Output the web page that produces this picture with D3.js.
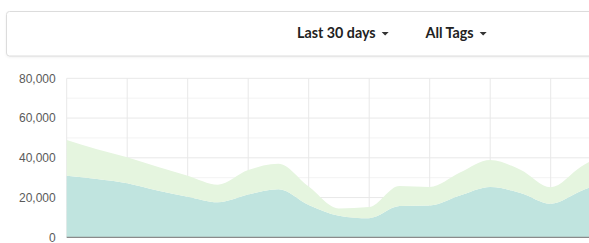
<!DOCTYPE html>
<html>
<head>
<meta charset="utf-8">
<script src="https://cdn.jsdelivr.net/npm/d3@7"></script>
<style>
  html, body { margin: 0; padding: 0; background: #fff; overflow: hidden; }
</style>
</head>
<body>
<div id="chart"></div>
<script>
// daily points, only the visible part of the 30 days range
const days = d3.range(19);
const otherValues = [31000, 29300, 27200, 23500, 20400, 17600, 21500, 24200, 16300, 10900, 9600, 15700, 16000, 21000, 25300, 22300, 16900, 23300, 29000];
const taggedValues = [18000, 15000, 13100, 12000, 10600, 8900, 12300, 12800, 9200, 3600, 5600, 10100, 9300, 11600, 13600, 11700, 8300, 12200, 15000];
const yTicks = [0, 20000, 40000, 60000, 80000];
const filterLabels = ['Last 30 days', 'All Tags'];

const width = 589, height = 243;
const margin = { top: 78.3, bottom: 5.7, left: 66.7 };
const step = 30.25;

const svg = d3.select('#chart')
  .append('svg')
  .attr('width', width)
  .attr('height', height)
  .style('display', 'block');

// filter card on top
svg.append('rect')
  .attr('x', 6.5).attr('y', 11.5)
  .attr('width', 620).attr('height', 44.5)
  .attr('rx', 3)
  .attr('fill', '#fff')
  .attr('stroke', '#dcdcdc')
  .style('filter', 'drop-shadow(0px 1px 1px rgba(0,0,0,0.06))');

const filterX = [297, 425.5];
filterLabels.forEach((label, i) => {
  const t = svg.append('text')
    .attr('x', filterX[i]).attr('y', 38.3)
    .attr('font-family', 'Lato, sans-serif')
    .attr('font-weight', 700)
    .attr('font-size', 14.3)
    .attr('fill', '#222')
    .text(label);
  const w = t.node().getComputedTextLength();
  const ax = filterX[i] + w + 6;
  svg.append('path')
    .attr('d', `M${ax},32 L${ax + 7},32 L${ax + 3.5},35.5 Z`)
    .attr('fill', '#333');
});

const x = d3.scaleLinear()
  .domain([0, days.length - 1])
  .range([margin.left, margin.left + step * (days.length - 1)]);

const y = d3.scaleLinear()
  .domain([0, 80000])
  .range([height - margin.bottom, margin.top]);

// gridlines
const grid = svg.append('g');
grid.selectAll('.minor')
  .data(d3.range(10000, 80000, 20000))
  .join('line')
  .attr('x1', margin.left).attr('x2', width)
  .attr('y1', d => y(d)).attr('y2', d => y(d))
  .attr('stroke', '#f3f3f3');
grid.selectAll('.major')
  .data(yTicks.slice(1))
  .join('line')
  .attr('x1', margin.left).attr('x2', width)
  .attr('y1', d => y(d)).attr('y2', d => y(d))
  .attr('stroke', '#e8e8e8');
grid.selectAll('.vert')
  .data(days.filter(d => d % 2 === 0))
  .join('line')
  .attr('x1', d => x(d)).attr('x2', d => x(d))
  .attr('y1', y(80000)).attr('y2', y(0))
  .attr('stroke', '#e8e8e8');

// stacked areas
const rows = days.map((d, i) => ({ day: d, other: otherValues[i], tagged: taggedValues[i] }));
const stack = d3.stack().keys(['other', 'tagged']);
const series = stack(rows);
const colors = { other: '#c0e4df', tagged: '#e5f5df' };

const area = d3.area()
  .x(d => x(d.data.day))
  .y0(d => y(d[0]))
  .y1(d => y(d[1]))
  .curve(d3.curveMonotoneX);

svg.append('g')
  .selectAll('path')
  .data(series)
  .join('path')
  .attr('d', area)
  .attr('fill', d => colors[d.key]);

// baseline
svg.append('line')
  .attr('x1', margin.left).attr('x2', width)
  .attr('y1', y(0)).attr('y2', y(0))
  .attr('stroke', '#8a8a8a')
  .attr('stroke-width', 1.2);

// y axis labels
const yAxis = svg.append('g')
  .attr('transform', `translate(${margin.left - 11},0)`)
  .call(d3.axisLeft(y).tickValues(yTicks).tickSize(0).tickPadding(0).tickFormat(d3.format(',')));
yAxis.select('.domain').remove();
yAxis.selectAll('text')
  .attr('font-family', '"Liberation Sans", Arial, sans-serif')
  .attr('font-size', 12)
  .attr('fill', '#5a5a5a');
</script>
</body>
</html>
